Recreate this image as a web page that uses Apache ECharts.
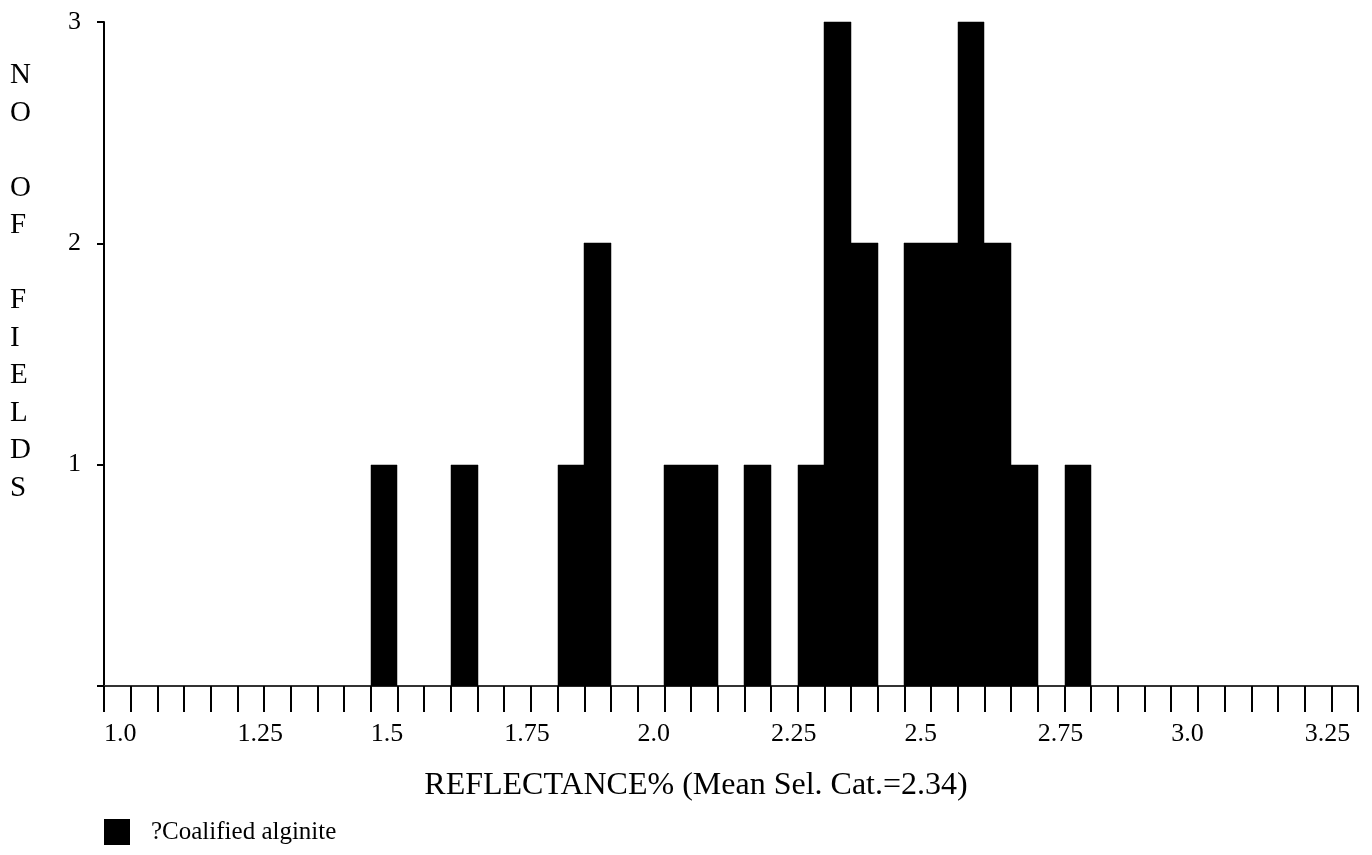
<!DOCTYPE html>
<html>
<head>
<meta charset="utf-8">
<script src="https://cdn.jsdelivr.net/npm/echarts@6/dist/echarts.min.js"></script>
<style>
html,body{margin:0;padding:0;background:#fff;}
#chart{width:1372px;height:855px;}
</style>
</head>
<body>
<div id="chart"></div>
<script>
// Histogram bins: lower edge of each 0.05-wide reflectance bin and its count
const binStarts = [1.50, 1.65, 1.85, 1.90, 2.05, 2.10, 2.20, 2.30, 2.35, 2.40, 2.50, 2.55, 2.60, 2.65, 2.70, 2.80];
const counts    = [1,    1,    1,    2,    1,    1,    1,    1,    3,    2,    2,    2,    3,    2,    1,    1];
const binWidth = 0.05;
// Labelled x ticks
const xLabelValues = [1.0, 1.25, 1.5, 1.75, 2.0, 2.25, 2.5, 2.75, 3.0, 3.25];
const xLabelTexts  = ['1.0', '1.25', '1.5', '1.75', '2.0', '2.25', '2.5', '2.75', '3.0', '3.25'];
const yLabelValues = [1, 2, 3];
const xTitle = 'REFLECTANCE% (Mean Sel. Cat.=2.34)';
const yTitleLetters = ['N', 'O', '', 'O', 'F', '', 'F', 'I', 'E', 'L', 'D', 'S'];
const seriesName = '?Coalified alginite';

const FONT = "'Liberation Serif', 'Times New Roman', serif";
const data = binStarts.map((s, i) => [s, counts[i]]);

const chart = echarts.init(document.getElementById('chart'), null, {renderer: 'canvas'});
chart.setOption({
  backgroundColor: '#fff',
  animation: false,
  grid: {left: 104, right: 14, top: 22, bottom: 169, containLabel: false},
  legend: {
    left: 104, top: 819, padding: 0,
    icon: 'rect', itemWidth: 26, itemHeight: 26,
    data: [seriesName],
    textStyle: {fontFamily: FONT, fontSize: 25, color: '#000', padding: [4, 0, 0, 16]}
  },
  graphic: [{
    type: 'text',
    left: 10, top: 57,
    style: {
      text: yTitleLetters.join('\n'),
      font: "29px 'Liberation Serif', serif",
      lineHeight: 37.5,
      fill: '#000',
      align: 'left'
    }
  }],
  xAxis: {
    type: 'value',
    min: 1.0, max: 3.35, interval: 0.05,
    name: xTitle,
    nameLocation: 'middle',
    nameGap: 84,
    nameTextStyle: {fontFamily: FONT, fontSize: 32, color: '#000', padding: [0, 70, 0, 0]},
    axisLine: {show: true, lineStyle: {color: '#333', width: 2}},
    axisTick: {show: true, length: 26, lineStyle: {color: '#000', width: 2}},
    splitLine: {show: false},
    axisLabel: {
      show: true, margin: 35, align: 'left',
      fontFamily: FONT, fontSize: 26, color: '#000',
      formatter: function (v) {
        for (let i = 0; i < xLabelValues.length; i++) {
          if (Math.abs(v - xLabelValues[i]) < 1e-6) return xLabelTexts[i];
        }
        return '';
      }
    }
  },
  yAxis: {
    type: 'value',
    min: 0, max: 3, interval: 1,
    axisLine: {show: true, lineStyle: {color: '#000', width: 2}},
    axisTick: {show: true, length: 7, lineStyle: {color: '#000', width: 2}},
    splitLine: {show: false},
    axisLabel: {
      margin: 36, align: 'left',
      fontFamily: FONT, fontSize: 26, color: '#000',
      formatter: function (v) { return yLabelValues.indexOf(v) >= 0 ? String(v) : ''; }
    }
  },
  series: [{
    name: seriesName,
    type: 'custom',
    itemStyle: {color: '#000'},
    encode: {x: 0, y: 1},
    data: data,
    renderItem: function (params, api) {
      const x0 = api.value(0);
      const y = api.value(1);
      const p0 = api.coord([x0, 0]);
      const p1 = api.coord([x0 + binWidth, y]);
      const xl = Math.round(p0[0]);
      const xr = Math.round(p1[0]);
      const yt = Math.round(p1[1]);
      const yb = Math.round(p0[1]);
      return {
        type: 'rect',
        shape: {x: xl, y: yt, width: xr - xl, height: yb - yt},
        style: {fill: '#000', stroke: '#000', lineWidth: 0.5}
      };
    }
  }]
});
</script>
</body>
</html>
